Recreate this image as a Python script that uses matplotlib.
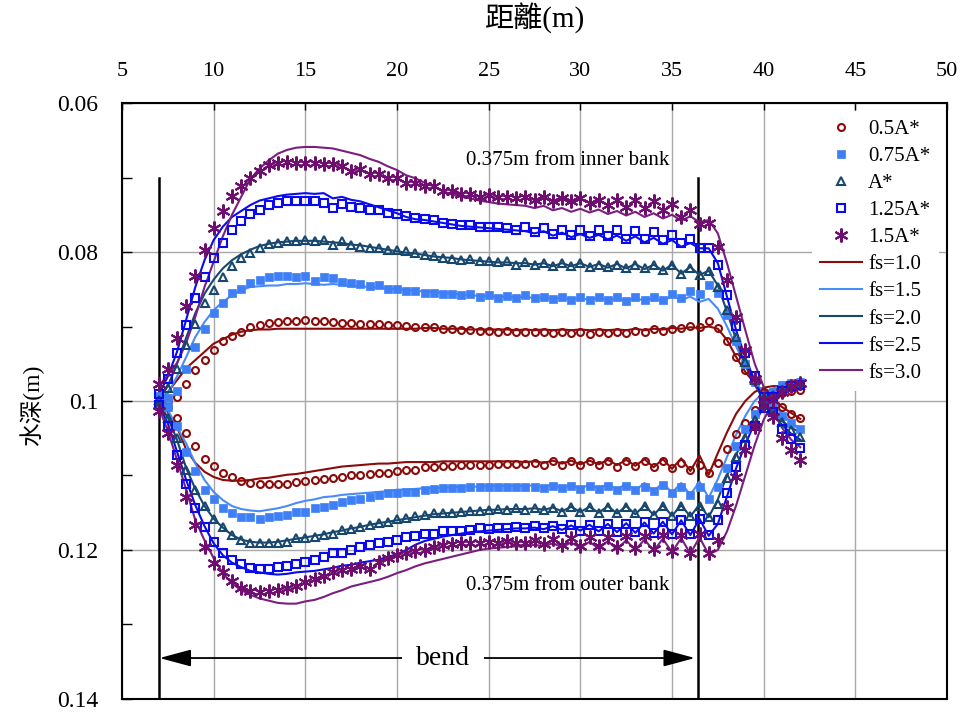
import numpy as np
import matplotlib
matplotlib.use('Agg')
import matplotlib.pyplot as plt
from matplotlib.ticker import MultipleLocator, FormatStrFormatter

# measuring stations (m)
x_pos = [7.0, 7.5, 8.0, 8.5, 9.0, 9.5, 10.0, 10.5, 11.0, 11.5,
         12.0, 12.5, 13.0, 13.5, 14.0, 14.5, 15.0, 15.5, 16.0, 16.5,
         17.0, 17.5, 18.0, 18.5, 19.0, 19.5, 20.0, 20.5, 21.0, 21.5,
         22.0, 22.5, 23.0, 23.5, 24.0, 24.5, 25.0, 25.5, 26.0, 26.5,
         27.0, 27.5, 28.0, 28.5, 29.0, 29.5, 30.0, 30.5, 31.0, 31.5,
         32.0, 32.5, 33.0, 33.5, 34.0, 34.5, 35.0, 35.5, 36.0, 36.5,
         37.0, 37.5, 38.0, 38.5, 39.0, 39.5, 40.0, 40.5, 41.0, 41.5,
         42.0]

# ---- 0.375m from inner bank ----
m05_in = [0.1000, 0.1000, 0.0994, 0.0977, 0.0958, 0.0945, 0.0931, 0.0920, 0.0913, 0.0907,
          0.0901, 0.0898, 0.0895, 0.0894, 0.0892, 0.0892, 0.0891, 0.0892, 0.0892, 0.0894,
          0.0895, 0.0895, 0.0896, 0.0896, 0.0897, 0.0898, 0.0898, 0.0899, 0.0900, 0.0901,
          0.0901, 0.0904, 0.0904, 0.0905, 0.0905, 0.0906, 0.0906, 0.0907, 0.0906, 0.0908,
          0.0907, 0.0908, 0.0907, 0.0909, 0.0907, 0.0909, 0.0907, 0.0910, 0.0907, 0.0909,
          0.0907, 0.0909, 0.0906, 0.0908, 0.0904, 0.0906, 0.0904, 0.0902, 0.0899, 0.0900,
          0.0892, 0.0902, 0.0920, 0.0941, 0.0958, 0.0972, 0.0988, 0.0999, 0.1008, 0.1017,
          0.1023]
fs10_in = [0.1000, 0.0988, 0.0972, 0.0956, 0.0945, 0.0934, 0.0923, 0.0917, 0.0911, 0.0907,
           0.0905, 0.0904, 0.0904, 0.0903, 0.0903, 0.0903, 0.0903, 0.0903, 0.0903, 0.0903,
           0.0903, 0.0903, 0.0903, 0.0903, 0.0903, 0.0903, 0.0903, 0.0903, 0.0903, 0.0902,
           0.0902, 0.0903, 0.0903, 0.0903, 0.0904, 0.0904, 0.0904, 0.0904, 0.0904, 0.0905,
           0.0904, 0.0905, 0.0904, 0.0905, 0.0904, 0.0905, 0.0904, 0.0905, 0.0904, 0.0905,
           0.0904, 0.0905, 0.0903, 0.0905, 0.0903, 0.0904, 0.0902, 0.0903, 0.0901, 0.0902,
           0.0900, 0.0903, 0.0918, 0.0941, 0.0961, 0.0976, 0.0988, 0.0999, 0.1008, 0.1016,
           0.1024]
m075_in = [0.0993, 0.0996, 0.0987, 0.0957, 0.0927, 0.0904, 0.0882, 0.0869, 0.0855, 0.0849,
           0.0841, 0.0837, 0.0833, 0.0832, 0.0832, 0.0833, 0.0832, 0.0839, 0.0833, 0.0835,
           0.0840, 0.0842, 0.0843, 0.0845, 0.0844, 0.0850, 0.0850, 0.0853, 0.0853, 0.0855,
           0.0855, 0.0856, 0.0856, 0.0858, 0.0857, 0.0860, 0.0858, 0.0862, 0.0859, 0.0862,
           0.0858, 0.0862, 0.0860, 0.0863, 0.0860, 0.0864, 0.0860, 0.0865, 0.0860, 0.0864,
           0.0861, 0.0866, 0.0860, 0.0864, 0.0861, 0.0865, 0.0856, 0.0862, 0.0852, 0.0856,
           0.0844, 0.0855, 0.0885, 0.0920, 0.0950, 0.0975, 0.0995, 0.1008, 0.1020, 0.1030,
           0.1038]
fs15_in = [0.0995, 0.0990, 0.0967, 0.0941, 0.0914, 0.0894, 0.0878, 0.0867, 0.0858, 0.0851,
           0.0847, 0.0846, 0.0845, 0.0845, 0.0843, 0.0843, 0.0842, 0.0843, 0.0844, 0.0843,
           0.0844, 0.0846, 0.0846, 0.0847, 0.0848, 0.0849, 0.0850, 0.0851, 0.0852, 0.0853,
           0.0854, 0.0855, 0.0856, 0.0857, 0.0858, 0.0859, 0.0859, 0.0860, 0.0860, 0.0861,
           0.0860, 0.0862, 0.0861, 0.0863, 0.0861, 0.0864, 0.0861, 0.0865, 0.0861, 0.0865,
           0.0862, 0.0866, 0.0861, 0.0866, 0.0861, 0.0866, 0.0859, 0.0864, 0.0860, 0.0867,
           0.0863, 0.0876, 0.0900, 0.0927, 0.0952, 0.0972, 0.0990, 0.1004, 0.1017, 0.1028,
           0.1038]
mA_in = [0.0998, 0.0983, 0.0957, 0.0925, 0.0896, 0.0869, 0.0851, 0.0833, 0.0819, 0.0808,
         0.0801, 0.0794, 0.0789, 0.0788, 0.0785, 0.0785, 0.0784, 0.0785, 0.0784, 0.0791,
         0.0785, 0.0791, 0.0793, 0.0794, 0.0794, 0.0797, 0.0797, 0.0799, 0.0801, 0.0804,
         0.0806, 0.0808, 0.0809, 0.0811, 0.0810, 0.0812, 0.0812, 0.0813, 0.0812, 0.0817,
         0.0813, 0.0817, 0.0815, 0.0819, 0.0815, 0.0819, 0.0815, 0.0820, 0.0817, 0.0820,
         0.0817, 0.0821, 0.0817, 0.0822, 0.0817, 0.0824, 0.0817, 0.0829, 0.0821, 0.0831,
         0.0825, 0.0847, 0.0878, 0.0914, 0.0947, 0.0972, 0.0994, 0.1012, 0.1028, 0.1039,
         0.1048]
fs20_in = [0.0998, 0.0980, 0.0950, 0.0915, 0.0882, 0.0856, 0.0837, 0.0822, 0.0811, 0.0803,
           0.0797, 0.0792, 0.0789, 0.0787, 0.0786, 0.0785, 0.0785, 0.0785, 0.0786, 0.0787,
           0.0788, 0.0790, 0.0791, 0.0793, 0.0795, 0.0797, 0.0799, 0.0801, 0.0802, 0.0804,
           0.0806, 0.0807, 0.0808, 0.0810, 0.0811, 0.0812, 0.0813, 0.0814, 0.0814, 0.0815,
           0.0815, 0.0817, 0.0815, 0.0819, 0.0815, 0.0819, 0.0815, 0.0820, 0.0816, 0.0821,
           0.0816, 0.0822, 0.0816, 0.0823, 0.0817, 0.0825, 0.0817, 0.0829, 0.0820, 0.0831,
           0.0825, 0.0845, 0.0880, 0.0918, 0.0952, 0.0978, 0.0998, 0.1015, 0.1027, 0.1036,
           0.1042]
m125_in = [0.0990, 0.0971, 0.0936, 0.0898, 0.0862, 0.0833, 0.0808, 0.0788, 0.0771, 0.0759,
           0.0749, 0.0743, 0.0737, 0.0734, 0.0731, 0.0731, 0.0731, 0.0731, 0.0734, 0.0741,
           0.0736, 0.0739, 0.0741, 0.0744, 0.0744, 0.0747, 0.0749, 0.0752, 0.0755, 0.0756,
           0.0757, 0.0761, 0.0762, 0.0764, 0.0764, 0.0767, 0.0766, 0.0767, 0.0768, 0.0770,
           0.0767, 0.0773, 0.0768, 0.0776, 0.0770, 0.0777, 0.0770, 0.0779, 0.0770, 0.0779,
           0.0770, 0.0782, 0.0772, 0.0783, 0.0773, 0.0784, 0.0777, 0.0788, 0.0782, 0.0795,
           0.0794, 0.0817, 0.0858, 0.0899, 0.0936, 0.0967, 0.0995, 0.1015, 0.1037, 0.1051,
           0.1063]
fs25_in = [0.0992, 0.0967, 0.0934, 0.0891, 0.0847, 0.0811, 0.0784, 0.0766, 0.0753, 0.0745,
           0.0737, 0.0731, 0.0728, 0.0725, 0.0723, 0.0722, 0.0721, 0.0722, 0.0721, 0.0728,
           0.0726, 0.0730, 0.0732, 0.0736, 0.0740, 0.0744, 0.0748, 0.0753, 0.0756, 0.0757,
           0.0759, 0.0761, 0.0763, 0.0765, 0.0766, 0.0767, 0.0768, 0.0769, 0.0770, 0.0771,
           0.0772, 0.0775, 0.0772, 0.0778, 0.0774, 0.0780, 0.0776, 0.0781, 0.0777, 0.0783,
           0.0778, 0.0785, 0.0779, 0.0787, 0.0781, 0.0789, 0.0784, 0.0793, 0.0788, 0.0795,
           0.0795, 0.0815, 0.0860, 0.0905, 0.0942, 0.0972, 0.0998, 0.1018, 0.1032, 0.1044,
           0.1052]
m15_in = [0.0977, 0.0957, 0.0916, 0.0872, 0.0832, 0.0797, 0.0768, 0.0745, 0.0725, 0.0711,
          0.0700, 0.0691, 0.0683, 0.0681, 0.0679, 0.0680, 0.0680, 0.0681, 0.0682, 0.0682,
          0.0684, 0.0691, 0.0689, 0.0695, 0.0695, 0.0701, 0.0701, 0.0708, 0.0707, 0.0712,
          0.0711, 0.0718, 0.0718, 0.0722, 0.0722, 0.0726, 0.0723, 0.0726, 0.0726, 0.0728,
          0.0726, 0.0730, 0.0726, 0.0732, 0.0728, 0.0732, 0.0728, 0.0734, 0.0730, 0.0737,
          0.0730, 0.0739, 0.0730, 0.0741, 0.0732, 0.0744, 0.0735, 0.0753, 0.0744, 0.0762,
          0.0761, 0.0793, 0.0838, 0.0887, 0.0931, 0.0970, 0.0997, 0.1022, 0.1050, 0.1066,
          0.1079]
fs30_in = [0.0980, 0.0965, 0.0949, 0.0922, 0.0887, 0.0847, 0.0813, 0.0779, 0.0750, 0.0726,
           0.0702, 0.0688, 0.0677, 0.0668, 0.0663, 0.0660, 0.0659, 0.0659, 0.0660, 0.0661,
           0.0664, 0.0667, 0.0670, 0.0675, 0.0679, 0.0685, 0.0690, 0.0697, 0.0701, 0.0707,
           0.0712, 0.0718, 0.0723, 0.0726, 0.0728, 0.0731, 0.0733, 0.0735, 0.0736, 0.0737,
           0.0738, 0.0741, 0.0738, 0.0744, 0.0741, 0.0746, 0.0742, 0.0747, 0.0743, 0.0749,
           0.0745, 0.0751, 0.0746, 0.0753, 0.0748, 0.0755, 0.0750, 0.0758, 0.0752, 0.0760,
           0.0757, 0.0775, 0.0815, 0.0860, 0.0905, 0.0949, 0.0981, 0.1012, 0.1036, 0.1052,
           0.1062]

# ---- 0.375m from outer bank ----
m05_out = [0.1000, 0.1008, 0.1023, 0.1043, 0.1061, 0.1078, 0.1087, 0.1097, 0.1102, 0.1107,
           0.1110, 0.1112, 0.1112, 0.1112, 0.1111, 0.1109, 0.1107, 0.1106, 0.1105, 0.1103,
           0.1102, 0.1100, 0.1099, 0.1098, 0.1097, 0.1096, 0.1094, 0.1092, 0.1092, 0.1089,
           0.1088, 0.1087, 0.1087, 0.1086, 0.1086, 0.1086, 0.1086, 0.1085, 0.1085, 0.1085,
           0.1085, 0.1083, 0.1086, 0.1081, 0.1086, 0.1081, 0.1086, 0.1081, 0.1086, 0.1081,
           0.1088, 0.1081, 0.1087, 0.1081, 0.1088, 0.1081, 0.1090, 0.1083, 0.1093, 0.1086,
           0.1097, 0.1083, 0.1064, 0.1044, 0.1029, 0.1012, 0.1002, 0.0994, 0.0989, 0.0986,
           0.0985]
fs10_out = [0.1000, 0.1015, 0.1035, 0.1065, 0.1083, 0.1095, 0.1102, 0.1106, 0.1107, 0.1107,
            0.1106, 0.1104, 0.1103, 0.1101, 0.1099, 0.1098, 0.1096, 0.1094, 0.1092, 0.1090,
            0.1088, 0.1087, 0.1086, 0.1085, 0.1084, 0.1084, 0.1083, 0.1082, 0.1082, 0.1082,
            0.1082, 0.1081, 0.1081, 0.1081, 0.1081, 0.1081, 0.1081, 0.1081, 0.1081, 0.1081,
            0.1082, 0.1081, 0.1083, 0.1080, 0.1084, 0.1080, 0.1085, 0.1080, 0.1085, 0.1079,
            0.1086, 0.1079, 0.1087, 0.1078, 0.1089, 0.1078, 0.1091, 0.1077, 0.1094, 0.1073,
            0.1099, 0.1070, 0.1042, 0.1017, 0.1000, 0.0988, 0.0982, 0.0980, 0.0980, 0.0982,
            0.0985]
m075_out = [0.1004, 0.1008, 0.1034, 0.1068, 0.1094, 0.1119, 0.1132, 0.1144, 0.1151, 0.1156,
            0.1156, 0.1159, 0.1156, 0.1155, 0.1153, 0.1149, 0.1149, 0.1143, 0.1142, 0.1140,
            0.1136, 0.1133, 0.1131, 0.1129, 0.1126, 0.1124, 0.1124, 0.1122, 0.1122, 0.1119,
            0.1118, 0.1117, 0.1117, 0.1117, 0.1116, 0.1116, 0.1115, 0.1116, 0.1115, 0.1116,
            0.1115, 0.1116, 0.1117, 0.1114, 0.1117, 0.1114, 0.1118, 0.1114, 0.1118, 0.1114,
            0.1119, 0.1114, 0.1119, 0.1115, 0.1121, 0.1113, 0.1124, 0.1116, 0.1126, 0.1116,
            0.1131, 0.1116, 0.1090, 0.1061, 0.1037, 0.1017, 0.1001, 0.0988, 0.0979, 0.0976,
            0.0974]
fs15_out = [0.1000, 0.1012, 0.1035, 0.1057, 0.1084, 0.1106, 0.1122, 0.1133, 0.1141, 0.1145,
            0.1147, 0.1148, 0.1146, 0.1144, 0.1141, 0.1137, 0.1134, 0.1132, 0.1129, 0.1128,
            0.1126, 0.1125, 0.1124, 0.1123, 0.1122, 0.1121, 0.1119, 0.1119, 0.1118, 0.1117,
            0.1117, 0.1116, 0.1116, 0.1115, 0.1115, 0.1115, 0.1114, 0.1114, 0.1114, 0.1114,
            0.1114, 0.1113, 0.1116, 0.1112, 0.1117, 0.1112, 0.1118, 0.1112, 0.1118, 0.1111,
            0.1119, 0.1111, 0.1120, 0.1110, 0.1121, 0.1110, 0.1123, 0.1110, 0.1126, 0.1108,
            0.1130, 0.1105, 0.1075, 0.1045, 0.1020, 0.1000, 0.0989, 0.0983, 0.0980, 0.0979,
            0.0978]
mA_out = [0.1005, 0.1023, 0.1050, 0.1092, 0.1119, 0.1141, 0.1159, 0.1169, 0.1180, 0.1187,
          0.1190, 0.1191, 0.1191, 0.1191, 0.1189, 0.1184, 0.1184, 0.1182, 0.1180, 0.1178,
          0.1173, 0.1172, 0.1169, 0.1166, 0.1164, 0.1162, 0.1159, 0.1157, 0.1155, 0.1153,
          0.1151, 0.1151, 0.1150, 0.1149, 0.1147, 0.1147, 0.1146, 0.1145, 0.1146, 0.1144,
          0.1146, 0.1143, 0.1146, 0.1143, 0.1149, 0.1142, 0.1149, 0.1142, 0.1150, 0.1142,
          0.1151, 0.1142, 0.1151, 0.1141, 0.1153, 0.1141, 0.1154, 0.1141, 0.1155, 0.1141,
          0.1156, 0.1138, 0.1104, 0.1075, 0.1050, 0.1025, 0.1005, 0.0992, 0.0985, 0.0981,
          0.0979]
fs20_out = [0.1003, 0.1022, 0.1052, 0.1090, 0.1118, 0.1141, 0.1158, 0.1170, 0.1180, 0.1186,
            0.1189, 0.1190, 0.1190, 0.1189, 0.1187, 0.1185, 0.1183, 0.1181, 0.1179, 0.1176,
            0.1174, 0.1171, 0.1169, 0.1166, 0.1164, 0.1162, 0.1160, 0.1158, 0.1156, 0.1154,
            0.1152, 0.1151, 0.1150, 0.1149, 0.1148, 0.1147, 0.1146, 0.1146, 0.1145, 0.1145,
            0.1145, 0.1144, 0.1146, 0.1143, 0.1148, 0.1142, 0.1149, 0.1142, 0.1150, 0.1141,
            0.1151, 0.1141, 0.1152, 0.1140, 0.1153, 0.1140, 0.1154, 0.1140, 0.1155, 0.1139,
            0.1156, 0.1132, 0.1100, 0.1072, 0.1046, 0.1022, 0.1003, 0.0990, 0.0983, 0.0980,
            0.0978]
m125_out = [0.1005, 0.1034, 0.1072, 0.1111, 0.1143, 0.1169, 0.1189, 0.1204, 0.1213, 0.1219,
            0.1224, 0.1226, 0.1226, 0.1223, 0.1221, 0.1219, 0.1216, 0.1213, 0.1209, 0.1204,
            0.1204, 0.1200, 0.1196, 0.1193, 0.1191, 0.1189, 0.1187, 0.1182, 0.1181, 0.1179,
            0.1179, 0.1175, 0.1174, 0.1174, 0.1173, 0.1171, 0.1172, 0.1170, 0.1171, 0.1169,
            0.1170, 0.1168, 0.1171, 0.1168, 0.1172, 0.1167, 0.1174, 0.1166, 0.1174, 0.1165,
            0.1176, 0.1165, 0.1176, 0.1163, 0.1177, 0.1162, 0.1178, 0.1160, 0.1179, 0.1158,
            0.1180, 0.1160, 0.1123, 0.1088, 0.1059, 0.1033, 0.1010, 0.0995, 0.0986, 0.0980,
            0.0978]
fs25_out = [0.1005, 0.1030, 0.1068, 0.1106, 0.1140, 0.1168, 0.1191, 0.1207, 0.1217, 0.1223,
            0.1228, 0.1230, 0.1232, 0.1233, 0.1232, 0.1230, 0.1229, 0.1228, 0.1226, 0.1224,
            0.1221, 0.1220, 0.1217, 0.1215, 0.1213, 0.1209, 0.1206, 0.1200, 0.1193, 0.1188,
            0.1185, 0.1182, 0.1180, 0.1178, 0.1176, 0.1175, 0.1174, 0.1173, 0.1172, 0.1171,
            0.1171, 0.1170, 0.1172, 0.1168, 0.1173, 0.1167, 0.1174, 0.1166, 0.1175, 0.1165,
            0.1176, 0.1164, 0.1177, 0.1163, 0.1178, 0.1162, 0.1179, 0.1160, 0.1180, 0.1158,
            0.1181, 0.1165, 0.1128, 0.1090, 0.1058, 0.1030, 0.1008, 0.0994, 0.0986, 0.0981,
            0.0978]
m15_out = [0.1013, 0.1043, 0.1086, 0.1129, 0.1166, 0.1196, 0.1217, 0.1230, 0.1242, 0.1251,
           0.1255, 0.1256, 0.1255, 0.1254, 0.1251, 0.1248, 0.1243, 0.1239, 0.1235, 0.1230,
           0.1227, 0.1225, 0.1222, 0.1225, 0.1216, 0.1211, 0.1207, 0.1204, 0.1202, 0.1200,
           0.1196, 0.1193, 0.1192, 0.1191, 0.1191, 0.1190, 0.1189, 0.1190, 0.1188, 0.1190,
           0.1190, 0.1186, 0.1192, 0.1185, 0.1193, 0.1184, 0.1194, 0.1183, 0.1195, 0.1182,
           0.1196, 0.1181, 0.1197, 0.1181, 0.1198, 0.1180, 0.1202, 0.1180, 0.1204, 0.1178,
           0.1204, 0.1187, 0.1142, 0.1102, 0.1066, 0.1035, 0.1005, 0.0999, 0.0988, 0.0980,
           0.0976]
fs30_out = [0.1008, 0.1040, 0.1079, 0.1119, 0.1160, 0.1187, 0.1211, 0.1231, 0.1245, 0.1254,
            0.1260, 0.1265, 0.1268, 0.1271, 0.1272, 0.1272, 0.1269, 0.1267, 0.1263, 0.1258,
            0.1254, 0.1249, 0.1246, 0.1243, 0.1240, 0.1236, 0.1231, 0.1227, 0.1222, 0.1218,
            0.1215, 0.1212, 0.1209, 0.1206, 0.1203, 0.1200, 0.1198, 0.1197, 0.1196, 0.1195,
            0.1195, 0.1193, 0.1195, 0.1191, 0.1196, 0.1190, 0.1197, 0.1189, 0.1198, 0.1188,
            0.1199, 0.1187, 0.1200, 0.1186, 0.1201, 0.1185, 0.1203, 0.1184, 0.1205, 0.1183,
            0.1206, 0.1200, 0.1175, 0.1140, 0.1100, 0.1060, 0.1025, 0.1003, 0.0990, 0.0983,
            0.0980]

meas_labels = ['0.5A*', '0.75A*', 'A*', '1.25A*', '1.5A*']
sim_labels = ['fs=1.0', 'fs=1.5', 'fs=2.0', 'fs=2.5', 'fs=3.0']

c_red = '#8b0a0a'
c_lblue = '#3f7ff5'
c_navy = '#17476f'
c_blue = '#0a0aef'
c_purple = '#6e0f70'

serif = ['Liberation Serif', 'DejaVu Serif']
cjk = ['Liberation Serif', 'Noto Sans CJK TC', 'DejaVu Sans']
plt.rcParams['font.family'] = serif

fig = plt.figure(figsize=(9.65, 7.17), dpi=100)
ax = fig.add_axes([122/965., 1-699/717., (947-122)/965., (699-103)/717.])

# simulated (lines)
sim = [(fs10_in, fs10_out, c_red), (fs15_in, fs15_out, '#4a8cf7'),
       (fs20_in, fs20_out, c_navy), (fs25_in, fs25_out, c_blue),
       (fs30_in, fs30_out, '#7a1f80')]
line_h = []
for (yi, yo, col), lab in zip(sim, sim_labels):
    h, = ax.plot(x_pos, yi, '-', color=col, lw=1.5, zorder=3, label=lab)
    ax.plot(x_pos, yo, '-', color=col, lw=1.5, zorder=3)
    line_h.append(h)

# measured (markers)
meas = [(m05_in, m05_out, dict(marker='o', mfc='none', mec=c_red, ms=5, mew=1.5)),
        (m075_in, m075_out, dict(marker='s', mfc=c_lblue, mec=c_lblue, ms=5.5, mew=0.5)),
        (mA_in, mA_out, dict(marker='^', mfc='none', mec=c_navy, ms=5.5, mew=1.5)),
        (m125_in, m125_out, dict(marker='s', mfc='none', mec=c_blue, ms=5.5, mew=1.5)),
        (m15_in, m15_out, dict(marker=(6, 2, 0), mfc=c_purple, mec=c_purple, ms=10, mew=1.5))]
mark_h = []
for (yi, yo, st), lab in zip(meas, meas_labels):
    h, = ax.plot(x_pos, yi, ls='none', zorder=4, label=lab, **st)
    ax.plot(x_pos, yo, ls='none', zorder=4, **st)
    mark_h.append(h)

ax.set_xlim(5, 50)
ax.set_ylim(0.14, 0.06)
ax.xaxis.tick_top()
ax.xaxis.set_major_locator(MultipleLocator(5))
ax.yaxis.set_major_locator(MultipleLocator(0.02))
ax.yaxis.set_minor_locator(MultipleLocator(0.01))
ax.yaxis.set_major_formatter(FormatStrFormatter('%g'))
ax.tick_params(axis='x', which='major', direction='in', length=5, width=1,
               labelsize=16, pad=16, top=True, bottom=False)
ax.tick_params(axis='y', which='both', direction='in', length=7, width=1,
               labelsize=17, pad=17, right=False)
ax.grid(True, which='major', color='#a8a8a8', lw=1)
ax.set_axisbelow(True)
for s in ax.spines.values():
    s.set_linewidth(1.5)
    s.set_color('black')

# bend markers
ax.plot([7, 7], [0.07, 0.14], color='black', lw=1.8, zorder=2)
ax.plot([36.4, 36.4], [0.07, 0.14], color='black', lw=1.8, zorder=2)
ax.annotate('', xy=(7.05, 0.1345), xytext=(36.25, 0.1345),
            arrowprops=dict(arrowstyle='<|-|>,head_length=1.3,head_width=0.35',
                            color='black', lw=1.3, mutation_scale=15,
                            shrinkA=0, shrinkB=0))
ax.text(22.5, 0.1345, 'bend', fontsize=20, ha='center', va='center',
        bbox=dict(facecolor='white', edgecolor='none', pad=10), zorder=5)

ax.text(29.3, 0.0677, '0.375m from inner bank', fontsize=15, ha='center', va='center')
ax.text(29.3, 0.1247, '0.375m from outer bank', fontsize=15, ha='center', va='center')

leg = ax.legend(mark_h + line_h, meas_labels + sim_labels, loc='upper left',
                bbox_to_anchor=(812/965., 1-111/717.), bbox_transform=fig.transFigure,
                fontsize=15, numpoints=1, handlelength=2.0, handletextpad=0.3,
                labelspacing=0.36, borderpad=0.4, borderaxespad=0,
                frameon=True, fancybox=False, framealpha=1)
leg.get_frame().set_edgecolor('none')
leg.get_frame().set_facecolor('white')
leg.set_zorder(6)

fig.text(535/965., 1-18/717., '距離(m)', family=cjk, fontsize=21, ha='center', va='center')
fig.text(32/965., 1-405/717., '水深(m)', family=cjk, fontsize=17, ha='center', va='center',
         rotation=90)

fig.savefig('out.png', dpi=100)
